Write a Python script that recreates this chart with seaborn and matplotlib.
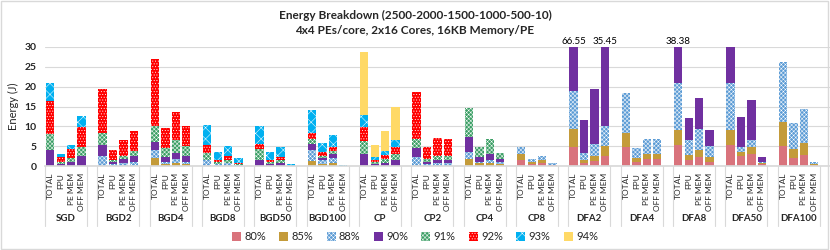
import numpy as np
import pandas as pd
import matplotlib
matplotlib.use("Agg")
import matplotlib.pyplot as plt
from matplotlib.patches import Patch, Rectangle
import seaborn as sns

groups = ["SGD", "BGD2", "BGD4", "BGD8", "BGD50", "BGD100", "CP", "CP2",
          "CP4", "CP8", "DFA2", "DFA4", "DFA8", "DFA50", "DFA100"]
parts = ["TOTAL", "FPU", "PE MEM", "OFF MEM"]
layers = ["80%", "85%", "88%", "90%", "91%", "92%", "93%", "94%"]

# energy (J) per layer, 4 bars (TOTAL, FPU, PE MEM, OFF MEM) per group
e80 = [0, 0, 0, 0,  0, 0, 0, 0,  0, 0, 0, 0,  0, 0, 0, 0,  0, 0, 0, 0,
       0, 0, 0, 0,  0, 0, 0, 0,  0, 0, 0, 0,  0, 0, 0, 0,  1.5, 0.6, 0.8, 0.2,
       4.8, 0.85, 1.3, 2.45,  4.9, 1.1, 1.8, 1.8,  5.2, 1.5, 2.2, 1.1,
       5.2, 2.45, 3.1, 0.5,  5.1, 2.0, 2.8, 0.35]
e85 = [0, 0, 0, 0,  0, 0, 0, 0,  2.0, 0.6, 0.7, 0.6,  0, 0, 0, 0,  0, 0, 0, 0,
       1.2, 0.5, 0.7, 0,  0, 0, 0, 0,  0, 0, 0, 0,  1.8, 0.7, 0.8, 0.4,  1.55, 0.5, 0.7, 0.05,
       4.6, 0.75, 1.3, 2.7,  3.4, 0.85, 1.25, 1.25,  4.0, 1.3, 1.85, 1.1,
       4.0, 1.15, 1.8, 0.35,  5.9, 2.4, 3.1, 0.15]
e88 = [0, 0, 0, 0,  2.6, 0.5, 0.8, 1.1,  2.1, 0.5, 1.0, 0.4,  1.5, 0.5, 0.8, 0.3,  0, 0, 0, 0,
       2.9, 1.0, 1.4, 0,  0, 0, 0, 0,  2.3, 0.5, 0.85, 0.85,  1.8, 0.4, 0.8, 0.5,  1.7, 0.7, 1.0, 0.55,
       9.6, 1.6, 2.9, 4.9,  10.1, 2.55, 3.85, 3.85,  11.8, 3.8, 5.35, 2.9,
       11.8, 1.3, 1.7, 0.15,  15.3, 6.5, 8.55, 0.6]
e90 = [4.1, 0.5, 1.1, 2.4,  2.8, 0.6, 1.0, 1.4,  2.0, 1.1, 1.5, 1.5,  0, 0, 0, 0,  1.4, 0.6, 0.7, 0,
       1.4, 0.5, 0.9, 0,  3.05, 0.5, 0.7, 1.5,  2.3, 0.5, 0.65, 0.65,  3.6, 1.1, 1.5, 0.8,  0, 0, 0, 0,
       47.55, 8.4, 13.9, 25.4,  0, 0, 0, 0,  17.38, 5.5, 7.7, 4.0,
       9.0, 7.5, 10.05, 1.35,  0, 0, 0, 0]
e91 = [4.0, 0.5, 1.0, 2.5,  2.8, 0.5, 0.8, 1.2,  4.1, 2.4, 3.4, 2.6,  1.7, 0.5, 0.6, 0.2,  2.9, 0.4, 0.8, 0,
       1.3, 0.6, 0.8, 0,  3.3, 0.5, 1.0, 1.6,  2.2, 0.7, 1.0, 1.0,  7.5, 2.5, 3.6, 1.6,  0, 0, 0, 0,
       0, 0, 0, 0,  0, 0, 0, 0,  0, 0, 0, 0,  0, 0, 0, 0,  0, 0, 0, 0]
e92 = [8.4, 1.3, 2.1, 4.9,  11.3, 2.5, 4.0, 5.2,  16.8, 4.9, 7.0, 5.1,  2.0, 0.5, 1.0, 0.3,  1.3, 0.5, 0.8, 0.1,
       1.5, 1.0, 0.9, 0,  3.4, 0.5, 1.1, 1.8,  11.8, 3.0, 4.6, 4.4,  0, 0, 0, 0,  0, 0, 0, 0,
       0, 0, 0, 0,  0, 0, 0, 0,  0, 0, 0, 0,  0, 0, 0, 0,  0, 0, 0, 0]
e93 = [4.3, 0.75, 1.2, 2.7,  0, 0, 0, 0,  0, 0, 0, 0,  5.2, 2.1, 2.7, 1.1,  4.6, 2.1, 2.4, 0.3,
       5.9, 2.3, 3.2, 0.35,  3.1, 0.7, 1.0, 1.7,  0, 0, 0, 0,  0, 0, 0, 0,  0, 0, 0, 0,
       0, 0, 0, 0,  0, 0, 0, 0,  0, 0, 0, 0,  0, 0, 0, 0,  0, 0, 0, 0]
e94 = [0, 0, 0, 0,  0, 0, 0, 0,  0, 0, 0, 0,  0, 0, 0, 0,  0, 0, 0, 0,
       0, 0, 0, 0,  16.0, 3.1, 5.1, 8.2,  0, 0, 0, 0,  0, 0, 0, 0,  0, 0, 0, 0,
       0, 0, 0, 0,  0, 0, 0, 0,  0, 0, 0, 0,  0, 0, 0, 0,  0, 0, 0, 0]

series = [e80, e85, e88, e90, e91, e92, e93, e94]
styles = [
    dict(color="#d9737c", hatch=None),
    dict(color="#c49b3a", hatch=None),
    dict(color="#5b9bd5", hatch="xxxxxxxx"),
    dict(color="#7030a0", hatch=None),
    dict(color="#3a9e64", hatch="xxxxxxxx"),
    dict(color="#ff0000", hatch="......"),
    dict(color="#00b0f0", hatch="xxx"),
    dict(color="#ffd966", hatch=None),
]

sns.set_theme(style="white")
plt.rcParams["font.family"] = ["Lato", "DejaVu Sans"]
plt.rcParams["hatch.linewidth"] = 0.35

# slot positions: 4 bars + 1 empty slot per group
slots = np.array([g * 5 + p for g in range(len(groups)) for p in range(len(parts))])
vals = np.array(series)
cum = np.cumsum(vals, axis=0)

rows = []
for k, lay in enumerate(layers):
    for i, s in enumerate(slots):
        rows.append(dict(slot=s, layer=lay, cum=cum[k, i]))
df = pd.DataFrame(rows)

fig = plt.figure(figsize=(8.3, 2.5), dpi=100)
ax = fig.add_axes([45 / 830, 1 - 166 / 250, 785 / 830, 119 / 250])

for k in range(len(layers) - 1, -1, -1):
    st = styles[k]
    sub = df[df.layer == layers[k]]
    sns.barplot(data=sub, x="slot", y="cum", native_scale=True, width=0.8,
                color=st["color"], saturation=1, errorbar=None,
                hatch=st["hatch"], edgecolor="white", linewidth=0, ax=ax)

ax.set_ylim(0, 30)
ax.set_xlim(-0.5, 74.5)
ax.set_yticks(range(0, 31, 5))
ax.tick_params(axis="y", labelsize=7.5, length=0, pad=6)
for t in ax.get_yticklabels():
    t.set_fontweight("bold")
    t.set_color("#262626")
ax.yaxis.grid(True, color="#d9d9d9", lw=0.8)
ax.set_axisbelow(True)
for s in ["left", "top", "right"]:
    ax.spines[s].set_visible(False)
ax.spines["bottom"].set_color("#d9d9d9")
ax.set_ylabel("Energy (J)", fontsize=8, color="#262626")
ax.set_xlabel("")

ax.set_xticks(slots)
ax.set_xticklabels(parts * len(groups), rotation=90, fontsize=6, color="#262626")
ax.tick_params(axis="x", length=0, pad=5)

trans = ax.get_xaxis_transform()
for g, name in enumerate(groups):
    ax.text(g * 5 + 1.5, -0.44, name, transform=trans, ha="center", va="center",
            fontsize=7, fontweight="bold", color="#262626")
    for xv in (g * 5 + 3.5, g * 5 + 4.5):
        if xv < 74.5:
            ax.plot([xv, xv], [0, -0.5], transform=trans, color="#d9d9d9",
                    lw=0.8, clip_on=False)
ax.plot([-0.5, -0.5], [0, -0.5], transform=trans, color="#d9d9d9", lw=0.8, clip_on=False)

# values above the axis limit
totals = cum[-1]
for s, v in zip(slots, totals):
    if v > 30:
        ax.annotate(f"{v:.2f}", (s, 30), xytext=(0, 1), textcoords="offset points",
                    ha="center", va="bottom", fontsize=7, color="#000000",
                    annotation_clip=False)

fig.text(0.5, 1 - 15 / 250, "Energy Breakdown (2500-2000-1500-1000-500-10)",
         ha="center", va="center", fontsize=8.5, fontweight="bold", color="#262626")
fig.text(0.5, 1 - 30 / 250, "4x4 PEs/core, 2x16 Cores, 16KB Memory/PE",
         ha="center", va="center", fontsize=8.5, fontweight="bold", color="#262626")

handles = [Patch(facecolor=st["color"], hatch=st["hatch"], edgecolor="white", lw=0)
           for st in styles]
fig.legend(handles, layers, loc="center", bbox_to_anchor=(0.5, 1 - 237 / 250),
           ncol=8, frameon=False, fontsize=8, handlelength=0.8, handleheight=0.8,
           handletextpad=0.3, columnspacing=1.2)

fig.add_artist(Rectangle((0.001, 0.004), 0.997, 0.992, transform=fig.transFigure,
                         fill=False, edgecolor="#d9d9d9", lw=1))

fig.savefig("out.png", dpi=100)
